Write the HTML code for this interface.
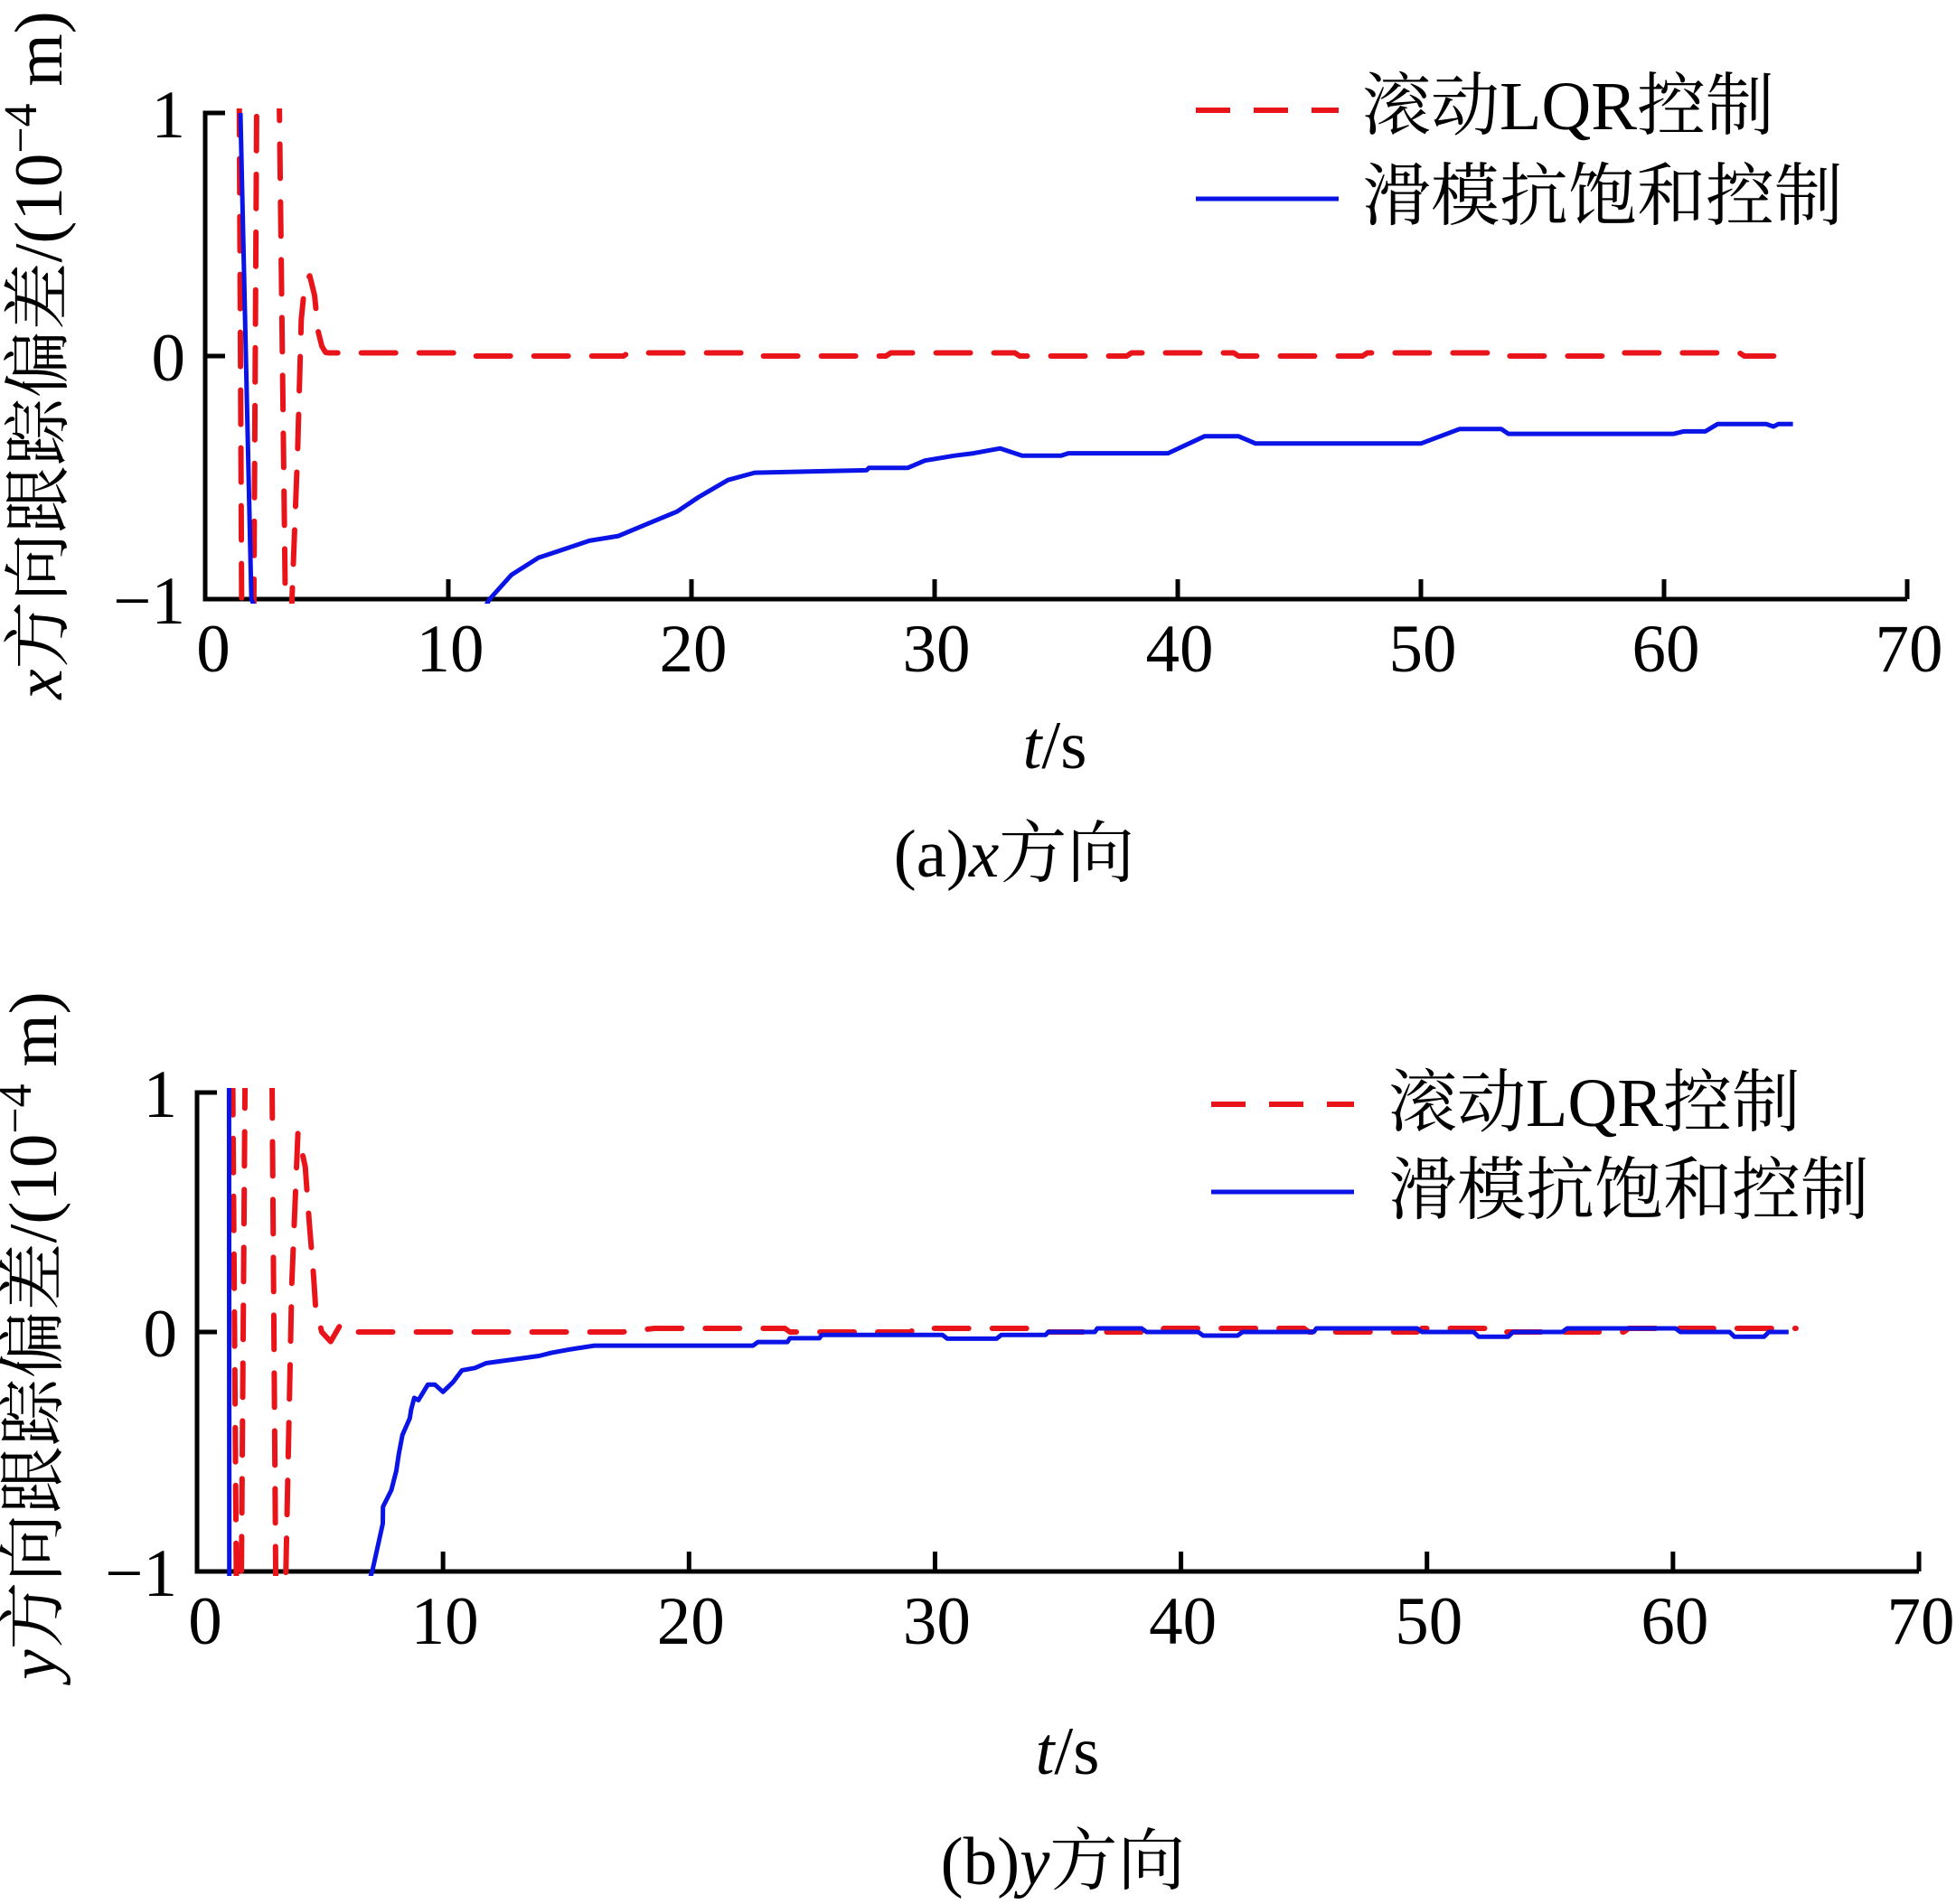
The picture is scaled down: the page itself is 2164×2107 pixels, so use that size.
<!DOCTYPE html>
<html><head><meta charset="utf-8">
<style>
html,body{margin:0;padding:0;background:#fff;}
svg{display:block;}
text{font-family:"Liberation Serif","Noto Serif CJK SC",serif;fill:#000;}
</style></head>
<body>
<svg id="fig" width="2164" height="2107" viewBox="0 0 2164 2107" xmlns="http://www.w3.org/2000/svg">
<defs>
<clipPath id="clipA"><rect x="222" y="120" width="1900" height="548"/></clipPath>
<clipPath id="clipB"><rect x="213" y="1204" width="1930" height="540"/></clipPath>
</defs>
<g id="chartA"></g>
<g id="chartB"></g>
</svg>
<script>
// ---- data (chart a: x direction) ----
const xTicks = [0,10,20,30,40,50,60,70];
const yTicks = [1,0,-1];
const yTickLabels = ["1","0","\u22121"];
const redA_t = [1.40,1.50,2.00,2.12,3.05,3.30,3.55,3.80,3.95,4.10,4.30,4.50,4.65,4.80,4.95,5.10,10.9,11.1,17.2,17.4,22.4,22.6,28.0,28.2,33.3,33.5,37.9,38.1,42.3,42.5,47.6,47.8,52.9,53.1,57.9,58.1,63.1,63.3,65.3];
const redA_v = [1.05,-1.05,-1.05,1.05,1.05,-1.05,-1.05,-0.40,0.15,0.30,0.33,0.25,0.10,0.04,0.015,0.013,0.013,0,0,0.013,0.013,0,0,0.013,0.013,0,0,0.013,0.013,0,0,0.013,0.013,0,0,0.013,0.013,0,0];
const blueA_t = [1.45,1.90,6.0,11.7,12.6,13.7,14.6,15.8,17.0,18.2,19.4,20.3,21.5,22.6,27.2,27.3,28.9,29.6,30.8,31.6,32.7,33.6,35.2,35.5,39.6,41.1,42.5,43.2,50.0,51.6,53.3,53.6,60.4,60.8,61.7,62.2,64.2,64.5,64.7,65.3];
const blueA_v = [1.0,-1.0,-2.0,-1.0,-0.90,-0.83,-0.80,-0.76,-0.74,-0.69,-0.64,-0.58,-0.51,-0.48,-0.47,-0.46,-0.46,-0.43,-0.41,-0.40,-0.38,-0.41,-0.41,-0.40,-0.40,-0.33,-0.33,-0.36,-0.36,-0.30,-0.30,-0.32,-0.32,-0.31,-0.31,-0.28,-0.28,-0.29,-0.28,-0.28];
// ---- data (chart b: y direction) ----
const redB_t = [1.45,1.60,1.80,1.95,3.05,3.20,3.60,3.85,4.10,4.40,4.56,4.74,4.82,5.07,5.43,5.80,6.20,6.30,13.9,17.3,18.6,23.9,24.1,29.0,29.2,34.2,34.4,39.1,39.3,45.0,45.2,49.6,49.8,53.0,53.2,58.0,58.2,62.8,63.0,65.0];
const redB_v = [1.05,-1.05,-1.05,1.05,1.05,-1.05,-1.05,0.2,0.83,0.69,0.46,0.23,0.10,0.0,-0.04,0.025,0.025,0.0,0.0,0.0,0.015,0.015,0.0,0.0,0.015,0.015,0.0,0.0,0.015,0.015,0.0,0.0,0.015,0.015,0.0,0.0,0.015,0.015,0.015,0.015];
const blueB_t = [1.30,1.31,4.0,7.12,7.55,7.56,7.90,8.10,8.20,8.35,8.65,8.70,8.83,9.0,9.38,9.67,10.0,10.4,10.77,11.3,11.75,13.9,14.4,15.2,16.15,22.6,22.8,24.0,24.1,25.3,25.4,30.3,30.5,32.5,32.7,34.5,34.6,36.5,36.6,38.4,38.6,40.7,40.9,42.3,42.5,43.6,43.7,45.4,45.5,49.6,49.8,51.9,52.1,53.3,53.5,55.5,55.7,60.1,60.3,62.3,62.5,63.7,63.9,64.7];
const blueB_v = [1.05,-1.05,-2.0,-1.0,-0.80,-0.73,-0.66,-0.58,-0.51,-0.43,-0.36,-0.325,-0.275,-0.285,-0.22,-0.22,-0.25,-0.21,-0.16,-0.15,-0.13,-0.10,-0.087,-0.072,-0.057,-0.057,-0.042,-0.042,-0.026,-0.026,-0.012,-0.012,-0.028,-0.028,-0.012,-0.012,0.0,0.0,0.015,0.015,0.0,0.0,-0.015,-0.015,0.0,0.0,0.0,0.0,0.015,0.015,0.0,0.0,-0.02,-0.02,0.0,0.0,0.015,0.015,0.0,0.0,-0.02,-0.02,0.0,0.0];
const legendLabels = ["滚动LQR控制","滑模抗饱和控制"];

const NS = "http://www.w3.org/2000/svg";
function mk(tag, attrs, parent){
  const e = document.createElementNS(NS, tag);
  for (const k in attrs) e.setAttribute(k, attrs[k]);
  parent.appendChild(e);
  return e;
}
function drawChart(g, cfg, red_t, red_v, blue_t, blue_v){
  const sx = t => cfg.x0 + (t/70)*(cfg.x70 - cfg.x0);
  const sy = v => cfg.y0 - v*(cfg.y0 - cfg.y1);
  const yTop = sy(1), yBot = sy(-1);
  const ax = mk('path', {d:`M${sx(0)+22} ${yTop} H${sx(0)} V${yBot} H${sx(70)}`, fill:'none', stroke:'#000', 'stroke-width':5}, g);
  
  
  xTicks.forEach(t => {
    const tk = mk('line', {x1:sx(t), x2:sx(t), y1:yBot, y2:yBot-22, stroke:'#000','stroke-width':5}, g);
    
    
    const lb = mk('text', {x:sx(t)+(t===0?9:2), y:yBot+80, 'font-size':75, 'text-anchor':'middle'}, g);
    lb.textContent = String(t);
    
    
  });
  yTicks.forEach((v,i) => {
    const tk = mk('line', {x1:sx(0), x2:sx(0)+22, y1:sy(v), y2:sy(v), stroke:'#000','stroke-width':5}, g);
    
    
    const lb = mk('text', {x:sx(0)-22, y:sy(v)+27, 'font-size':75, 'text-anchor':'end'}, g);
    lb.textContent = yTickLabels[i];
    
    
  });
  const cg = mk('g', {'clip-path':`url(#${cfg.clip})`}, g);
  const rp = mk('path', {d: red_t.map((t,i)=>(i?'L':'M')+sx(t).toFixed(1)+' '+sy(red_v[i]).toFixed(1)).join(' '), fill:'none', stroke:'#e8141a','stroke-width':6,'stroke-dasharray':'38 26','stroke-linejoin':'round','stroke-linecap':'round'}, cg);
  
  
  const bp = mk('path', {d: blue_t.map((t,i)=>(i?'L':'M')+sx(t).toFixed(1)+' '+sy(blue_v[i]).toFixed(1)).join(' '), fill:'none', stroke:'#0a14e6','stroke-width':5,'stroke-linejoin':'round'}, cg);
  
  
  const l1 = mk('line', {x1:cfg.lx1, x2:cfg.lx2, y1:cfg.ly1, y2:cfg.ly1, stroke:'#e8141a','stroke-width':6,'stroke-dasharray':'38 26'}, g);
  
  
  const l2 = mk('line', {x1:cfg.lx1, x2:cfg.lx2, y1:cfg.ly2, y2:cfg.ly2, stroke:'#0a14e6','stroke-width':5}, g);
  
  
  const t1 = mk('text', {x:cfg.ltx, y:cfg.lb1, 'font-size':76}, g);
  t1.textContent = legendLabels[0];
  
  
  const t2 = mk('text', {x:cfg.ltx, y:cfg.lb2, 'font-size':76}, g);
  t2.textContent = legendLabels[1];
  
  
  const yt = mk('text', {x:0, y:0, 'font-size':75, 'text-anchor':'middle', transform:`translate(${cfg.ytx},${cfg.yty}) rotate(-90)`}, g);
  yt.innerHTML = `<tspan font-style="italic">${cfg.axisVar}</tspan>方向跟踪偏差/(10<tspan dy="-28" font-size="52">\u22124</tspan><tspan dy="28"> m)</tspan>`;
  
  
  const xt = mk('text', {x:cfg.xtx, y:cfg.xty, 'font-size':75, 'text-anchor':'middle'}, g);
  xt.innerHTML = `<tspan font-style="italic">t</tspan>/s`;
  
  
  const cap = mk('text', {x:cfg.capx, y:cfg.capy, 'font-size':75, 'text-anchor':'middle'}, g);
  cap.innerHTML = `(${cfg.capLetter})<tspan font-style="italic">${cfg.axisVar}</tspan>方向`;
  
  
}
drawChart(document.getElementById('chartA'),
  {x0:227,x70:2110,y1:125,y0:394,clip:'clipA',lx1:1323,lx2:1481,ly1:122,ly2:220,ltx:1507,lb1:143,lb2:243,ytx:68,yty:393,axisVar:'x',xtx:1167,xty:850,capx:1122,capy:970,capLetter:'a'},
  redA_t, redA_v, blueA_t, blueA_v);
drawChart(document.getElementById('chartB'),
  {x0:218,x70:2123,y1:1209,y0:1474,clip:'clipB',lx1:1340,lx2:1498,ly1:1222,ly2:1319,ltx:1536,lb1:1246,lb2:1343,ytx:62,yty:1478,axisVar:'y',xtx:1181,xty:1963,capx:1176,capy:2085,capLetter:'b'},
  redB_t, redB_v, blueB_t, blueB_v);
</script>
</body></html>
